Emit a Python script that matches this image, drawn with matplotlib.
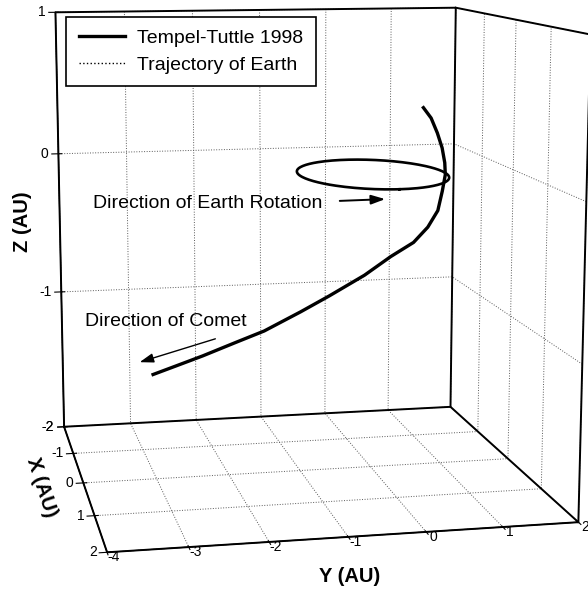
import numpy as np
import matplotlib.pyplot as plt
from matplotlib.lines import Line2D
from mpl_toolkits.mplot3d import proj3d

plt.rcParams['font.family'] = ['Liberation Sans', 'DejaVu Sans']
plt.rcParams['axes.unicode_minus'] = False
plt.rcParams['grid.linestyle'] = ':'
plt.rcParams['grid.color'] = '0.35'
plt.rcParams['grid.linewidth'] = 0.7

# Tempel-Tuttle 1998 轨迹 (AU)
comet_x = [0.0] * 19
comet_y = [0.71, 0.82, 0.91, 0.98, 1.02, 1.03, 0.99, 0.93, 0.79, 0.59,
           0.27, -0.10, -0.59, -0.99, -1.50, -1.90, -2.35, -2.72, -3.03]
comet_z = [0.43, 0.36, 0.26, 0.16, 0.06, -0.02, -0.13, -0.26, -0.37, -0.47,
           -0.56, -0.68, -0.81, -0.91, -1.03, -1.10, -1.18, -1.24, -1.29]

# 地球轨道 (半径 1 AU, Z = 0)
earth_radius = 1.0
earth_z = 0.0

x_ticks = [-2, -1, 0, 1, 2]
y_ticks = [-4, -3, -2, -1, 0, 1, 2]
z_ticks = [-2, -1, 0, 1]

fig = plt.figure(figsize=(5.88, 5.95), dpi=100)
ax = fig.add_axes([-0.1446, -0.0689, 1.2755, 1.2605], projection='3d',
                  proj_type='persp', focal_length=0.5)
ax.view_init(elev=10, azim=-11.5)
ax.set_box_aspect((1, 1, 1.03))

ax.plot(comet_x, comet_y, comet_z, color='black', linewidth=2.4)

t = np.linspace(0, 2 * np.pi, 200)
ax.plot(earth_radius * np.cos(t), earth_radius * np.sin(t),
        np.full_like(t, earth_z), color='black', linewidth=1.9)

x0, x1 = x_ticks[0], x_ticks[-1]
y0, y1 = y_ticks[0], y_ticks[-1]
z0, z1 = z_ticks[0], z_ticks[-1]

# 坐标框
box_edges = [
    ([x0, x0, x0, x0, x0], [y0, y1, y1, y0, y0], [z0, z0, z1, z1, z0]),
    ([x0, x1, x1, x0], [y0, y0, y1, y1], [z0, z0, z0, z0]),
    ([x0, x1, x1], [y1, y1, y1], [z1, z1, z0]),
]
for ex, ey, ez in box_edges:
    ax.plot(ex, ey, ez, color='black', linewidth=1.4)

ax.set_xlim(x0, x1)
ax.set_ylim(y0, y1)
ax.set_zlim(z0, z1)
ax.set_xticks(x_ticks)
ax.set_yticks(y_ticks)
ax.set_zticks(z_ticks)
ax.xaxis.set_ticklabels([])
ax.yaxis.set_ticklabels([])
ax.zaxis.set_ticklabels([])
ax.zaxis.set_ticks_position('lower')

for axis in (ax.xaxis, ax.yaxis, ax.zaxis):
    axis.set_pane_color((1, 1, 1, 0))

# 刻度标签 (按投影位置放置)
fig.canvas.draw()
M = ax.get_proj()


def tick_label(x, y, z, text, dx, dy, ha):
    px, py, _ = proj3d.proj_transform(x, y, z, M)
    ax.annotate(text, xy=(px, py), xytext=(dx, dy), textcoords='offset points',
                ha=ha, va='center', fontsize=10)


for v in x_ticks:
    tick_label(v, y0, z0, str(v), -7, 0, 'right')
for v in y_ticks:
    tick_label(x1, v, z0, str(v), 5, -3.5, 'center')
for v in z_ticks:
    tick_label(x0, y0, v, str(v), -7, 0, 'right')

# 图例
handles = [Line2D([], [], color='black', linewidth=2.4),
           Line2D([], [], color='black', linewidth=1.0, linestyle=':')]
leg = fig.legend(handles, ['Tempel-Tuttle 1998', 'Trajectory of Earth'],
                 loc='upper left', bbox_to_anchor=(66 / 588, 1 - 17 / 595),
                 borderaxespad=0, fontsize=14, fancybox=False,
                 edgecolor='black', framealpha=1, handlelength=2.4,
                 handletextpad=0.6, labelspacing=0.45, borderpad=0.65)
leg.get_frame().set_linewidth(1.2)

# 轴标题与方向标注
over = fig.add_axes([0, 0, 1, 1])
over.set_xlim(0, 588)
over.set_ylim(595, 0)
over.axis('off')
over.text(22, 222, 'Z (AU)', fontsize=14.5, fontweight='bold',
          rotation=90, ha='center', va='center')
over.text(42, 487, 'X (AU)', fontsize=14.5, fontweight='bold',
          rotation=-72, ha='center', va='center')
over.text(350, 576, 'Y (AU)', fontsize=14.5, fontweight='bold',
          ha='center', va='center')

over.text(93, 203, 'Direction of Earth Rotation', fontsize=14, va='center')
over.annotate('', xy=(388, 199), xytext=(337, 201),
              arrowprops=dict(arrowstyle='-|>,head_length=0.6,head_width=0.2',
                              color='black', lw=1.4, mutation_scale=14))
over.text(85, 322, 'Direction of Comet', fontsize=14, va='center')
over.annotate('', xy=(137, 363), xytext=(218, 338),
              arrowprops=dict(arrowstyle='-|>,head_length=0.6,head_width=0.2',
                              color='black', lw=1.0, mutation_scale=14))

fig.savefig('out.png', dpi=100)
